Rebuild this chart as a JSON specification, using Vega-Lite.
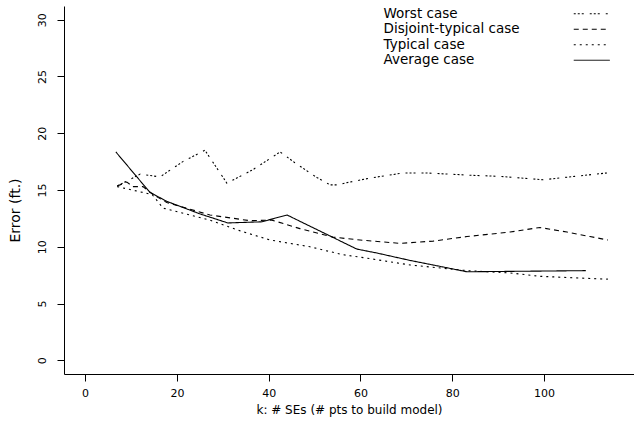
{
  "$schema": "https://vega.github.io/schema/vega-lite/v6.json",
  "width": 570,
  "height": 368,
  "autosize": {"type": "none"},
  "padding": {"left": 64, "top": 6, "right": 0, "bottom": 56},
  "background": "white",
  "config": {
    "view": {"stroke": null},
    "font": "DejaVu Sans",
    "axis": {
      "grid": false,
      "domainColor": "black",
      "tickColor": "black",
      "tickSize": 7,
      "labelColor": "black",
      "titleColor": "black",
      "labelFont": "DejaVu Sans",
      "titleFont": "DejaVu Sans",
      "labelFontSize": 11,
      "titleFontSize": 12,
      "titleFontWeight": "normal"
    }
  },
  "data": {
    "values": [
      {"series": "Worst case", "k": 7, "err": 15.35},
      {"series": "Worst case", "k": 12, "err": 16.4},
      {"series": "Worst case", "k": 16.3, "err": 16.15},
      {"series": "Worst case", "k": 21.3, "err": 17.5},
      {"series": "Worst case", "k": 26.1, "err": 18.5},
      {"series": "Worst case", "k": 30.9, "err": 15.6},
      {"series": "Worst case", "k": 36.6, "err": 16.8},
      {"series": "Worst case", "k": 42.5, "err": 18.35},
      {"series": "Worst case", "k": 45.7, "err": 17.4},
      {"series": "Worst case", "k": 50.5, "err": 16.1},
      {"series": "Worst case", "k": 53.4, "err": 15.45},
      {"series": "Worst case", "k": 54.9, "err": 15.45},
      {"series": "Worst case", "k": 57.7, "err": 15.7},
      {"series": "Worst case", "k": 62.1, "err": 16.05},
      {"series": "Worst case", "k": 69.3, "err": 16.5},
      {"series": "Worst case", "k": 74.5, "err": 16.5},
      {"series": "Worst case", "k": 83.9, "err": 16.3},
      {"series": "Worst case", "k": 90.4, "err": 16.2},
      {"series": "Worst case", "k": 99.8, "err": 15.9},
      {"series": "Worst case", "k": 106.7, "err": 16.2},
      {"series": "Worst case", "k": 113.7, "err": 16.5},

      {"series": "Disjoint-typical case", "k": 7, "err": 15.35},
      {"series": "Disjoint-typical case", "k": 9.1, "err": 15.7},
      {"series": "Disjoint-typical case", "k": 10.4, "err": 15.3},
      {"series": "Disjoint-typical case", "k": 12.6, "err": 15.3},
      {"series": "Disjoint-typical case", "k": 14.8, "err": 14.6},
      {"series": "Disjoint-typical case", "k": 17.8, "err": 13.9},
      {"series": "Disjoint-typical case", "k": 27.2, "err": 12.8},
      {"series": "Disjoint-typical case", "k": 35.9, "err": 12.3},
      {"series": "Disjoint-typical case", "k": 40.7, "err": 12.35},
      {"series": "Disjoint-typical case", "k": 46.8, "err": 11.6},
      {"series": "Disjoint-typical case", "k": 54, "err": 10.85},
      {"series": "Disjoint-typical case", "k": 59.9, "err": 10.6},
      {"series": "Disjoint-typical case", "k": 68.6, "err": 10.3},
      {"series": "Disjoint-typical case", "k": 75.8, "err": 10.5},
      {"series": "Disjoint-typical case", "k": 83.2, "err": 10.9},
      {"series": "Disjoint-typical case", "k": 92.6, "err": 11.3},
      {"series": "Disjoint-typical case", "k": 99.1, "err": 11.7},
      {"series": "Disjoint-typical case", "k": 105, "err": 11.3},
      {"series": "Disjoint-typical case", "k": 110, "err": 10.9},
      {"series": "Disjoint-typical case", "k": 113.9, "err": 10.6},

      {"series": "Typical case", "k": 7, "err": 15.3},
      {"series": "Typical case", "k": 14.6, "err": 14.6},
      {"series": "Typical case", "k": 17, "err": 13.4},
      {"series": "Typical case", "k": 27.2, "err": 12.35},
      {"series": "Typical case", "k": 33.8, "err": 11.4},
      {"series": "Typical case", "k": 40.3, "err": 10.6},
      {"series": "Typical case", "k": 49, "err": 10.0},
      {"series": "Typical case", "k": 56.2, "err": 9.3},
      {"series": "Typical case", "k": 61.4, "err": 9.0},
      {"series": "Typical case", "k": 70.8, "err": 8.4},
      {"series": "Typical case", "k": 83.2, "err": 7.9},
      {"series": "Typical case", "k": 92.6, "err": 7.7},
      {"series": "Typical case", "k": 99.1, "err": 7.4},
      {"series": "Typical case", "k": 105, "err": 7.3},
      {"series": "Typical case", "k": 113.9, "err": 7.15},

      {"series": "Average case", "k": 6.7, "err": 18.35},
      {"series": "Average case", "k": 14.1, "err": 14.8},
      {"series": "Average case", "k": 17.8, "err": 14.0},
      {"series": "Average case", "k": 25, "err": 12.9},
      {"series": "Average case", "k": 31.1, "err": 12.1},
      {"series": "Average case", "k": 38.5, "err": 12.2},
      {"series": "Average case", "k": 44, "err": 12.8},
      {"series": "Average case", "k": 59.2, "err": 9.8},
      {"series": "Average case", "k": 63.6, "err": 9.45},
      {"series": "Average case", "k": 70.8, "err": 8.8},
      {"series": "Average case", "k": 75.8, "err": 8.4},
      {"series": "Average case", "k": 83.2, "err": 7.8},
      {"series": "Average case", "k": 96.3, "err": 7.85},
      {"series": "Average case", "k": 109.1, "err": 7.9}
    ]
  },
  "mark": {"type": "line", "color": "black", "strokeWidth": 1.1},
  "encoding": {
    "x": {
      "field": "k",
      "type": "quantitative",
      "scale": {"domain": [-4.6, 119.6], "nice": false, "zero": false},
      "axis": {
        "values": [0, 20, 40, 60, 80, 100],
        "title": "k: # SEs (# pts to build model)",
        "labelPadding": 6,
        "titlePadding": 6
      }
    },
    "y": {
      "field": "err",
      "type": "quantitative",
      "scale": {"domain": [-1.2, 31.2], "nice": false, "zero": false},
      "axis": {
        "values": [0, 5, 10, 15, 20, 25, 30],
        "title": "Error (ft.)",
        "titleFontSize": 14,
        "titleY": 204,
        "labelAngle": -90,
        "labelAlign": "center",
        "labelBaseline": "bottom",
        "labelPadding": 10,
        "titlePadding": 14
      }
    },
    "strokeDash": {
      "field": "series",
      "type": "nominal",
      "scale": {
        "domain": ["Worst case", "Disjoint-typical case", "Typical case", "Average case"],
        "range": [[2, 2, 2, 2, 2, 6], [5, 4], [2, 4], [1, 0]]
      },
      "legend": {
        "title": null,
        "orient": "none",
        "legendX": 521,
        "legendY": 1,
        "symbolType": "M-3,0H3",
        "symbolSize": 144,
        "symbolStrokeColor": "black",
        "symbolFillColor": "transparent",
        "symbolStrokeWidth": 1,
        "labelFont": "DejaVu Sans",
        "labelFontSize": 13.5,
        "labelColor": "black",
        "labelAlign": "left",
        "labelOffset": -215,
        "rowPadding": 0.5
      }
    }
  }
}
